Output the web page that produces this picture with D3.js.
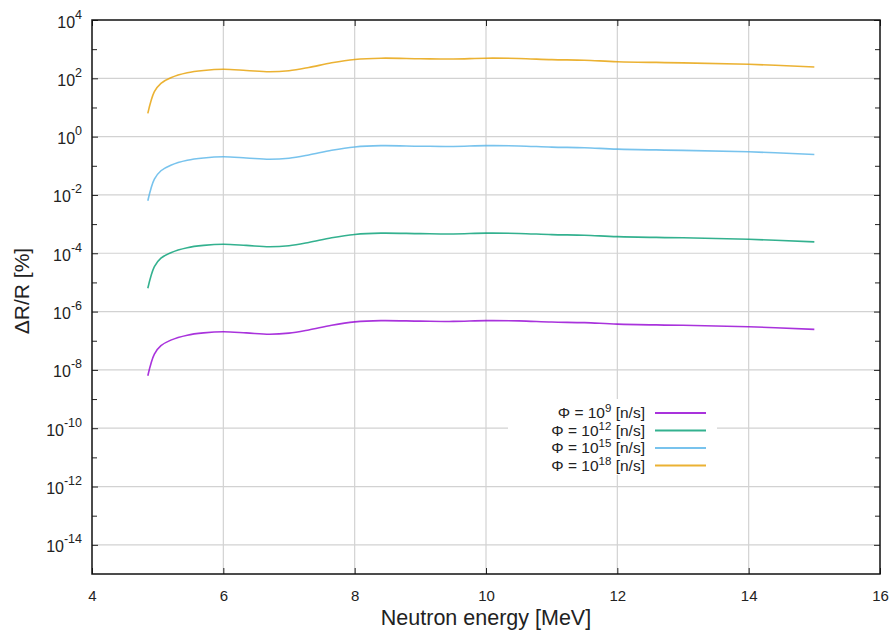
<!DOCTYPE html>
<html>
<head>
<meta charset="utf-8">
<script src="https://cdn.jsdelivr.net/npm/d3@7"></script>
<style>
  html, body { margin: 0; padding: 0; background: #fff; }
  svg { display: block; font-family: "Liberation Sans", Arial, Helvetica, sans-serif; }
</style>
</head>
<body>
<svg id="chart" width="893" height="633"></svg>
<script>
// ---------------- data ----------------
const energy = [4.85, 4.95, 5.05, 5.2, 5.45, 5.7, 6.0, 6.35, 6.7, 7.0, 7.3, 7.65, 8.0, 8.4, 9.0, 9.5, 10.0, 10.5, 11.0, 11.5, 12.0, 13.0, 14.0, 15.0];
const phi9  = [6.3e-9, 3.47e-8, 6.76e-8, 1.05e-7, 1.55e-7, 1.86e-7, 2.04e-7, 1.86e-7, 1.67e-7, 1.82e-7, 2.35e-7, 3.40e-7, 4.42e-7, 4.90e-7, 4.70e-7, 4.60e-7, 4.90e-7, 4.79e-7, 4.37e-7, 4.17e-7, 3.72e-7, 3.39e-7, 3.02e-7, 2.45e-7];
const phi12 = [6.3e-6, 3.47e-5, 6.76e-5, 1.05e-4, 1.55e-4, 1.86e-4, 2.04e-4, 1.86e-4, 1.67e-4, 1.82e-4, 2.35e-4, 3.40e-4, 4.42e-4, 4.90e-4, 4.70e-4, 4.60e-4, 4.90e-4, 4.79e-4, 4.37e-4, 4.17e-4, 3.72e-4, 3.39e-4, 3.02e-4, 2.45e-4];
const phi15 = [6.3e-3, 3.47e-2, 6.76e-2, 1.05e-1, 1.55e-1, 1.86e-1, 2.04e-1, 1.86e-1, 1.67e-1, 1.82e-1, 2.35e-1, 3.40e-1, 4.42e-1, 4.90e-1, 4.70e-1, 4.60e-1, 4.90e-1, 4.79e-1, 4.37e-1, 4.17e-1, 3.72e-1, 3.39e-1, 3.02e-1, 2.45e-1];
const phi18 = [6.3, 34.7, 67.6, 105, 155, 186, 204, 186, 167, 182, 235, 340, 442, 490, 470, 460, 490, 479, 437, 417, 372, 339, 302, 245];

const seriesNames = ["9", "12", "15", "18"];
const seriesColors = ["#9400d3", "#009e73", "#56b4e9", "#e69f00"];
const seriesValues = [phi9, phi12, phi15, phi18];

const xTicks = [4, 6, 8, 10, 12, 14, 16];
const yMajorExps = [-14, -12, -10, -8, -6, -4, -2, 0, 2, 4];
const yMinorExps = [-13, -11, -9, -7, -5, -3, -1, 1, 3];

const xTitle = "Neutron energy [MeV]";
const yTitle = "ΔR/R [%]";

// ---------------- layout ----------------
const L = 92, R = 880, T = 20, B = 574;
const svg = d3.select("#chart");

const x = d3.scaleLinear().domain([4, 16]).range([L, R]);
const y = d3.scaleLog().domain([1e-15, 1e4]).range([B, T]);

// grid
const grid = svg.append("g");
grid.selectAll("line.gx").data(xTicks.slice(1, -1)).enter().append("line")
  .attr("x1", d => x(d)).attr("x2", d => x(d)).attr("y1", T).attr("y2", B)
  .attr("stroke", "#d2d2d2").attr("stroke-width", 1.2);
grid.selectAll("line.gy").data(yMajorExps.filter(e => e < 4)).enter().append("line")
  .attr("x1", L).attr("x2", R).attr("y1", d => y(Math.pow(10, d))).attr("y2", d => y(Math.pow(10, d)))
  .attr("stroke", "#d2d2d2").attr("stroke-width", 1.2);

// axes
const axBottom = svg.append("g").attr("transform", `translate(0,${B})`)
  .call(d3.axisBottom(x).tickValues(xTicks).tickSize(-6).tickPadding(16).tickFormat(d3.format("d")));
const axTop = svg.append("g").attr("transform", `translate(0,${T})`)
  .call(d3.axisTop(x).tickValues(xTicks).tickSize(-6).tickFormat(""));
const axLeft = svg.append("g").attr("transform", `translate(${L},0)`)
  .call(d3.axisLeft(y).tickValues(yMajorExps.map(e => Math.pow(10, e))).tickSize(-6).tickPadding(10).tickFormat(""));
const axLeftMinor = svg.append("g").attr("transform", `translate(${L},0)`)
  .call(d3.axisLeft(y).tickValues(yMinorExps.map(e => Math.pow(10, e))).tickSize(-5).tickFormat(""));
const axRight = svg.append("g").attr("transform", `translate(${R},0)`)
  .call(d3.axisRight(y).tickValues(yMajorExps.map(e => Math.pow(10, e))).tickSize(-6).tickFormat(""));
const axRightMinor = svg.append("g").attr("transform", `translate(${R},0)`)
  .call(d3.axisRight(y).tickValues(yMinorExps.map(e => Math.pow(10, e))).tickSize(-5).tickFormat(""));

[axBottom, axTop, axLeft, axLeftMinor, axRight, axRightMinor].forEach(g => {
  g.select(".domain").remove();
  g.selectAll(".tick line").attr("stroke", "#222").attr("stroke-width", 1);
});
axBottom.selectAll(".tick text").attr("font-size", 15).attr("fill", "#222")
  .attr("font-family", "'Liberation Sans', Arial, sans-serif");

// y tick labels with superscripts
axLeft.selectAll(".tick").each(function(d) {
  const e = Math.round(Math.log10(d));
  const t = d3.select(this).append("text")
    .attr("x", -10).attr("y", 7).attr("text-anchor", "end")
    .attr("fill", "#222").attr("font-size", 16);
  t.append("tspan").text("10");
  t.append("tspan").attr("dy", -9).attr("font-size", 12.5).text(String(e));
});

// border
svg.append("rect").attr("x", L).attr("y", T).attr("width", R - L).attr("height", B - T)
  .attr("fill", "none").attr("stroke", "#111").attr("stroke-width", 1.5);

// lines
const line = d3.line().x(d => x(d[0])).y(d => y(d[1])).curve(d3.curveCatmullRom.alpha(0.5));
seriesValues.forEach((vals, i) => {
  svg.append("path")
    .datum(energy.map((e, j) => [e, vals[j]]))
    .attr("d", line)
    .attr("fill", "none")
    .attr("stroke", seriesColors[i])
    .attr("stroke-width", 1.6)
    .attr("stroke-opacity", 0.8);
});

// legend
const lg = svg.append("g");
lg.append("rect").attr("x", 508).attr("y", 399).attr("width", 209).attr("height", 76).attr("fill", "#fff");
seriesNames.forEach((n, i) => {
  const ly = 413 + i * 17.5;
  const t = lg.append("text").attr("x", 645).attr("y", ly + 5).attr("text-anchor", "end")
    .attr("font-size", 15.5).attr("fill", "#222");
  t.append("tspan").text("Φ = 10");
  t.append("tspan").attr("dy", -6).attr("font-size", 11.5).text(n);
  t.append("tspan").attr("dy", 6).text(" [n/s]");
  lg.append("line").attr("x1", 655).attr("x2", 706).attr("y1", ly).attr("y2", ly)
    .attr("stroke", seriesColors[i]).attr("stroke-width", 1.8).attr("stroke-opacity", 0.8);
});

// titles
svg.append("text").attr("x", (L + R) / 2).attr("y", 625).attr("text-anchor", "middle")
  .attr("font-size", 21.5).attr("fill", "#222").text(xTitle);
svg.append("text").attr("transform", `translate(29,291) rotate(-90)`).attr("text-anchor", "middle")
  .attr("font-size", 21).attr("fill", "#222").text(yTitle);
</script>
</body>
</html>
